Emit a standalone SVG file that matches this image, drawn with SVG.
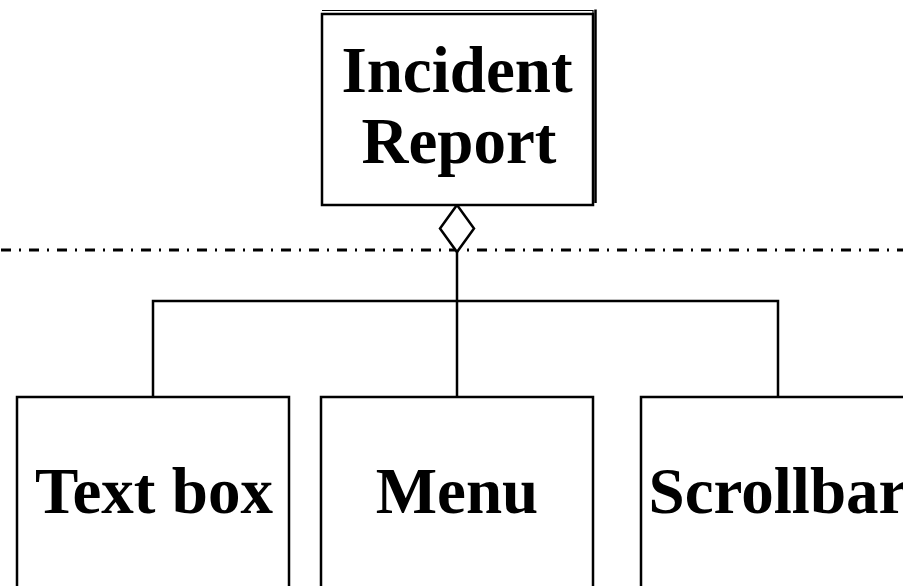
<svg xmlns="http://www.w3.org/2000/svg" width="903" height="586" viewBox="0 0 903 586">
<style>
.box{fill:#fff;stroke:#000;stroke-width:2.5}
.ln{fill:none;stroke:#000;stroke-width:2.5}
.t{font-family:"Liberation Serif","Times New Roman",serif;font-weight:bold;font-size:65px;text-anchor:middle;fill:#000}
</style>
<rect width="903" height="586" fill="#fff"/>
<g id="connectors">
<line x1="0" y1="250" x2="903" y2="250" stroke="#000" stroke-width="3" stroke-dasharray="10 8 2 8" stroke-dashoffset="-1"/>
<polyline class="ln" points="457,252 457,301"/>
<polyline class="ln" points="153,397 153,301 778,301 778,397"/>
<line class="ln" x1="457" y1="301" x2="457" y2="397"/>
<polygon class="box" points="457,205 474,228.5 457,252 440,228.5"/>
</g>
<g id="incident-report">
<polyline fill="none" stroke="#000" stroke-width="1.2" points="322,10.5 593,10.5 593,203"/>
<line x1="595.5" y1="9.5" x2="595.5" y2="203" stroke="#000" stroke-width="2.5"/>
<rect class="box" x="322" y="14" width="271" height="191"/>
<text class="t" x="457" y="92">Incident</text>
<text class="t" x="459" y="163">Report</text>
</g>
<g id="text-box">
<rect class="box" x="17" y="397" width="272" height="200"/>
<text class="t" x="154" y="513">Text box</text>
</g>
<g id="menu">
<rect class="box" x="321" y="397" width="272" height="200"/>
<text class="t" x="457" y="513">Menu</text>
</g>
<g id="scrollbar">
<rect class="box" x="641" y="397" width="272" height="200"/>
<text class="t" x="778" y="513">Scrollbar</text>
</g>
</svg>
